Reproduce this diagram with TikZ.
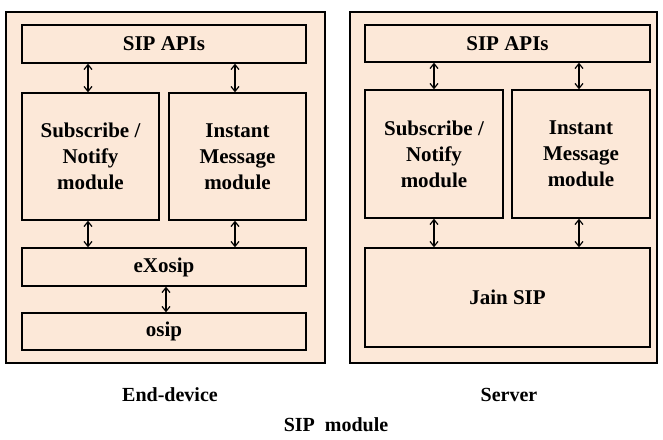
\documentclass[tikz,border=0pt]{standalone}
\usepackage{fontspec}
\setmainfont{Liberation Serif}
\usetikzlibrary{arrows.meta}
\definecolor{peach}{RGB}{252,232,216}
\begin{document}
\begin{tikzpicture}[x=1pt,y=-1pt,
  outerbox/.style={draw=black, line width=1.3pt, fill=peach, inner sep=0pt},
  box/.style={draw=black, line width=1.3pt, fill=peach, inner sep=0pt, align=center,
    font=\fontsize{21}{26}\selectfont\bfseries},
  lbl/.style={font=\fontsize{20}{24}\selectfont\bfseries, inner sep=0pt},
  arr/.style={{Straight Barb[length=5pt,width=8pt]}-{Straight Barb[length=5pt,width=8pt]}, line width=1.2pt}]
\useasboundingbox[fill=white] (0,0) rectangle (663,439);
% outer boxes
\node[outerbox, minimum width=319pt, minimum height=351pt] (outL) at (165.5,187.5) {};
\node[outerbox, minimum width=307pt, minimum height=351pt] (outR) at (503.5,187.5) {};
% end-device
\node[box, minimum width=284pt, minimum height=38pt] (api1) at (164,44) {SIP APIs};
\node[box, minimum width=137pt, minimum height=127pt] (sub1) at (90.5,156.5) {Subscribe /\\Notify\\module};
\node[box, minimum width=137pt, minimum height=127pt] (inst1) at (237.5,156.5) {Instant\\Message\\module};
\node[box, minimum width=284pt, minimum height=38pt] (ex1) at (164,267) {eXosip};
\node[box, minimum width=284pt, minimum height=37pt] (osip1) at (164,331.5) {osip};
% server
\node[box, minimum width=285pt, minimum height=37pt] (api2) at (507.5,43.5) {SIP APIs};
\node[box, minimum width=138pt, minimum height=128pt] (sub2) at (434,154) {Subscribe /\\Notify\\module};
\node[box, minimum width=138pt, minimum height=128pt] (inst2) at (581,154) {Instant\\Message\\module};
\node[box, minimum width=285pt, minimum height=99pt] (jain) at (507.5,297.5) {Jain SIP};
% arrows
\draw[arr] (sub1.north -| 88,0) -- (api1.south -| 88,0);
\draw[arr] (inst1.north -| 235,0) -- (api1.south -| 235,0);
\draw[arr] (sub1.south -| 88,0) -- (ex1.north -| 88,0);
\draw[arr] (inst1.south -| 235,0) -- (ex1.north -| 235,0);
\draw[arr] (ex1.south -| 166,0) -- (osip1.north -| 166,0);
\draw[arr] (sub2.north) -- (sub2.north |- api2.south);
\draw[arr] (inst2.north -| 579,0) -- (api2.south -| 579,0);
\draw[arr] (sub2.south) -- (sub2.south |- jain.north);
\draw[arr] (inst2.south -| 579,0) -- (jain.north -| 579,0);
% labels
\node[lbl] (lend) at (170,395) {End-device};
\node[lbl] (lserv) at (509,395) {Server};
\node[lbl] (lsip) at (336,425) {SIP\ \ module};
\end{tikzpicture}
\end{document}
